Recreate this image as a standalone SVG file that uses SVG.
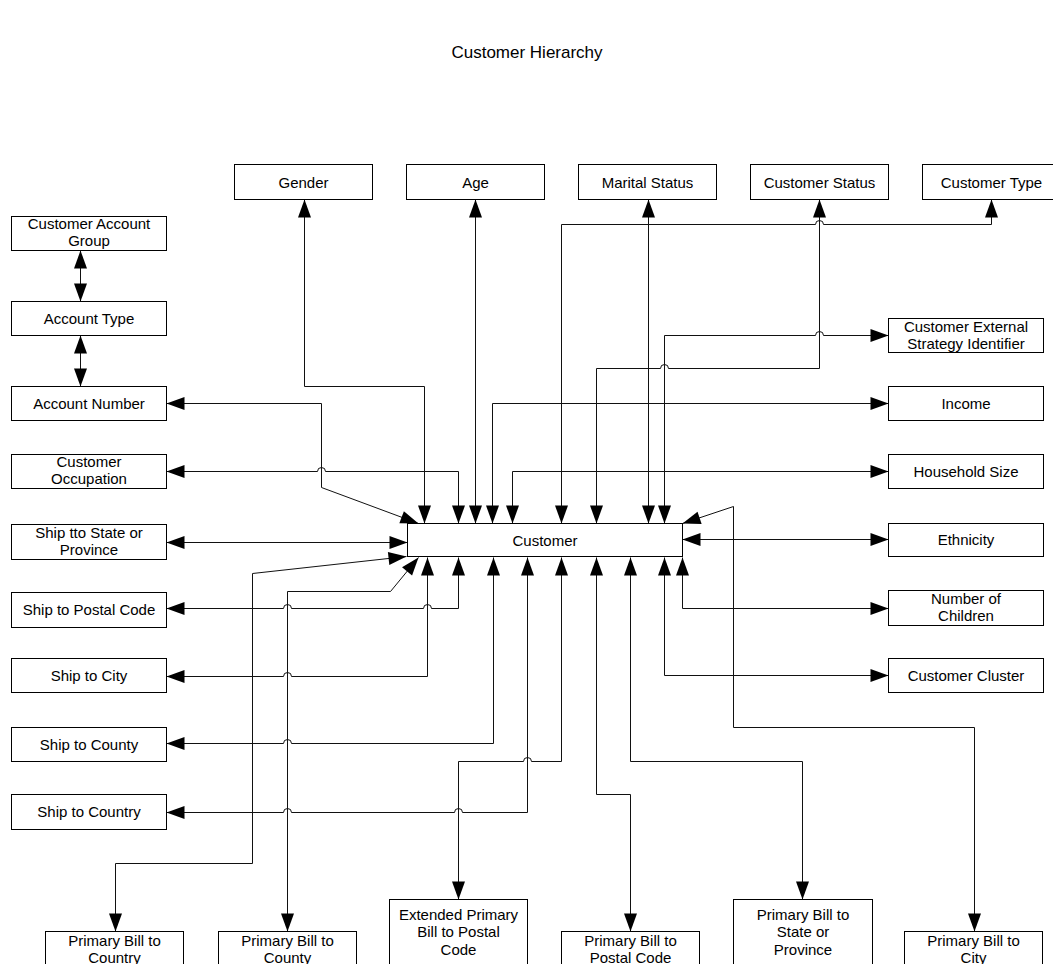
<svg xmlns="http://www.w3.org/2000/svg" width="1053" height="964" viewBox="0 0 1053 964">
<style>
.b{fill:#fff;stroke:#000;stroke-width:1}
.t{font-family:"Liberation Sans",Arial,sans-serif;font-size:15px;fill:#000;text-anchor:middle}
.title{font-family:"Liberation Sans",Arial,sans-serif;font-size:17px;fill:#000;text-anchor:middle}
.c{fill:none;stroke:#111;stroke-width:1;marker-start:url(#a);marker-end:url(#a)}
</style>
<defs>
<marker id="a" markerUnits="userSpaceOnUse" markerWidth="18" markerHeight="13" refX="18" refY="6.5" orient="auto-start-reverse" overflow="visible">
<path d="M0,0 L18,6.5 L0,13 Z" fill="#000"/>
</marker>
</defs>
<rect width="1053" height="964" fill="#fff"/>
<text class="title" x="527" y="58">Customer Hierarchy</text>
<g transform="translate(0.5 0.5)">
<g id="connectors">
<path class="c" d="M80,250 L80,301"/>
<path class="c" d="M80,335 L80,386"/>
<path class="c" d="M304,199 L304,386 L424,386 L424,523"/>
<path class="c" d="M475,523 L475,199"/>
<path class="c" d="M648,523 L648,199"/>
<path class="c" d="M561,523 L561,224 L815,224 A4,4 0 0 1 823,224 L991,224 L991,199"/>
<path class="c" d="M596,523 L596,368 L660,368 A4,4 0 0 1 668,368 L819,368 L819,199"/>
<path class="c" d="M664,523 L664,335 L815,335 A4,4 0 0 1 823,335 L888,335"/>
<path class="c" d="M492,523 L492,403 L888,403"/>
<path class="c" d="M512,523 L512,471 L888,471"/>
<path class="c" d="M458,523 L458,471 L325,471 A4,4 0 0 0 317,471 L166,471"/>
<path class="c" d="M166,403 L321,403 L321,487 L418,523"/>
<path class="c" d="M166,542 L407,542"/>
<path class="c" d="M682,539 L888,539"/>
<path class="c" d="M682,557 L682,608 L888,608"/>
<path class="c" d="M664,557 L664,675 L888,675"/>
<path class="c" d="M682,523 L733,506 L733,727 L974,727 L974,931"/>
<path class="c" d="M630,557 L630,761 L802,761 L802,899"/>
<path class="c" d="M596,557 L596,794 L630,794 L630,931"/>
<path class="c" d="M561,557 L561,761 L531,761 A4,4 0 0 0 523,761 L458,761 L458,899"/>
<path class="c" d="M527,557 L527,812 L462,812 A4,4 0 0 0 454,812 L291,812 A4,4 0 0 0 283,812 L166,812"/>
<path class="c" d="M493,557 L493,743 L291,743 A4,4 0 0 0 283,743 L166,743"/>
<path class="c" d="M427,557 L427,676 L291,676 A4,4 0 0 0 283,676 L166,676"/>
<path class="c" d="M458,557 L458,608 L431,608 A4,4 0 0 0 423,608 L291,608 A4,4 0 0 0 283,608 L166,608"/>
<path class="c" d="M115,931 L115,863 L252,863 L252,573 L406,556"/>
<path class="c" d="M287,931 L287,591 L390,591 L418,557"/>
</g>
<g id="customer"><rect class="b" x="407" y="523" width="275" height="33"/><text class="t" x="544.5" y="545">Customer</text></g>
<g id="gender"><rect class="b" x="234" y="164" width="138" height="35"/><text class="t" x="303" y="187">Gender</text></g>
<g id="age"><rect class="b" x="406" y="164" width="138" height="35"/><text class="t" x="475" y="187">Age</text></g>
<g id="marital-status"><rect class="b" x="578" y="164" width="138" height="35"/><text class="t" x="647" y="187">Marital Status</text></g>
<g id="customer-status"><rect class="b" x="750" y="164" width="138" height="35"/><text class="t" x="819" y="187">Customer Status</text></g>
<g id="customer-type"><rect class="b" x="922" y="164" width="138" height="35"/><text class="t" x="991" y="187">Customer Type</text></g>
<g id="customer-account-group"><rect class="b" x="11" y="216" width="155" height="34"/><text class="t" x="88.5" y="228">Customer Account</text><text class="t" x="88.5" y="245">Group</text></g>
<g id="account-type"><rect class="b" x="11" y="301" width="155" height="34"/><text class="t" x="88.5" y="323">Account Type</text></g>
<g id="account-number"><rect class="b" x="11" y="386" width="155" height="34"/><text class="t" x="88.5" y="408">Account Number</text></g>
<g id="customer-occupation"><rect class="b" x="11" y="454" width="155" height="34"/><text class="t" x="88.5" y="466.5">Customer</text><text class="t" x="88.5" y="483.5">Occupation</text></g>
<g id="ship-state"><rect class="b" x="11" y="524" width="155" height="35"/><text class="t" x="88.5" y="537">Ship tto State or</text><text class="t" x="88.5" y="554">Province</text></g>
<g id="ship-postal"><rect class="b" x="11" y="592" width="155" height="35"/><text class="t" x="88.5" y="614.5">Ship to Postal Code</text></g>
<g id="ship-city"><rect class="b" x="11" y="658" width="155" height="34"/><text class="t" x="88.5" y="680.5">Ship to City</text></g>
<g id="ship-county"><rect class="b" x="11" y="727" width="155" height="34"/><text class="t" x="88.5" y="749">Ship to County</text></g>
<g id="ship-country"><rect class="b" x="11" y="794" width="155" height="35"/><text class="t" x="88.5" y="816.5">Ship to Country</text></g>
<g id="customer-external"><rect class="b" x="888" y="318" width="155" height="34"/><text class="t" x="965.5" y="331">Customer External</text><text class="t" x="965.5" y="348">Strategy Identifier</text></g>
<g id="income"><rect class="b" x="888" y="386" width="155" height="34"/><text class="t" x="965.5" y="408">Income</text></g>
<g id="household-size"><rect class="b" x="888" y="454" width="155" height="34"/><text class="t" x="965.5" y="476">Household Size</text></g>
<g id="ethnicity"><rect class="b" x="888" y="523" width="155" height="33"/><text class="t" x="965.5" y="544.5">Ethnicity</text></g>
<g id="number-of-children"><rect class="b" x="888" y="590" width="155" height="35"/><text class="t" x="965.5" y="603">Number of</text><text class="t" x="965.5" y="620">Children</text></g>
<g id="customer-cluster"><rect class="b" x="888" y="658" width="155" height="34"/><text class="t" x="965.5" y="680.5">Customer Cluster</text></g>
<g id="pb-country"><rect class="b" x="45" y="931" width="138" height="40"/><text class="t" x="114" y="945">Primary Bill to</text><text class="t" x="114" y="962">Country</text></g>
<g id="pb-county"><rect class="b" x="218" y="931" width="138" height="40"/><text class="t" x="287" y="945">Primary Bill to</text><text class="t" x="287" y="962">County</text></g>
<g id="ext-pb-postal"><rect class="b" x="389" y="899" width="138" height="70"/><text class="t" x="458" y="919">Extended Primary</text><text class="t" x="458" y="936.5">Bill to Postal</text><text class="t" x="458" y="954">Code</text></g>
<g id="pb-postal"><rect class="b" x="561" y="931" width="138" height="40"/><text class="t" x="630" y="945">Primary Bill to</text><text class="t" x="630" y="962">Postal Code</text></g>
<g id="pb-state"><rect class="b" x="733" y="899" width="139" height="70"/><text class="t" x="802.5" y="919">Primary Bill to</text><text class="t" x="802.5" y="936.5">State or</text><text class="t" x="802.5" y="954">Province</text></g>
<g id="pb-city"><rect class="b" x="904" y="931" width="138" height="40"/><text class="t" x="973" y="945">Primary Bill to</text><text class="t" x="973" y="962">City</text></g>
</g>
</svg>
